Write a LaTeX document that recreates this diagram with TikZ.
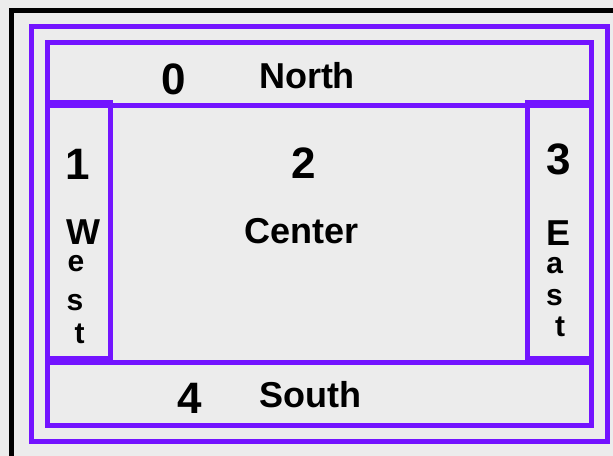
\documentclass[tikz,border=0pt]{standalone}
\usepackage{fontspec}
\setmainfont{Liberation Sans}
\definecolor{bgc}{RGB}{236,236,236}
\definecolor{pur}{RGB}{115,20,255}
\begin{document}
\begin{tikzpicture}[x=0.75pt,y=-0.75pt,
  frame/.style={draw=pur,line width=3.75pt},
  big/.style={font=\fontsize{33}{33}\selectfont\bfseries, inner sep=0pt},
  word/.style={font=\fontsize{27}{27}\selectfont\bfseries, inner sep=0pt},
  small/.style={font=\fontsize{22.5}{22.5}\selectfont\bfseries, inner sep=0pt}]
\fill[bgc] (0,0) rectangle (613,456);
\useasboundingbox (0,0) rectangle (613,456);
\draw[line width=3.75pt, black] (11,456) -- (11,10.8) -- (613,10.8);
% outer container and inner panel
\draw[frame] (31,26.5) rectangle (607,441.5);
\draw[frame] (47,42.5) rectangle (591,425.7);
% regions
\draw[frame] (47,42.5) rectangle (591,105.5);
\draw[frame] (47,102.5) rectangle (110.5,358.5);
\draw[frame] (527,102.5) rectangle (591,358.5);
\draw[frame] (47,362) rectangle (591,425.7);
% labels
\node[big] (n0) at (174,79) {0};
\node[word] (north) at (307,75.3) {North};
\node[big] (n1) at (78,164) {1};
\node[word] (w1) at (83.7,231.7) {W};
\node[small] (w2) at (76,263.8) {e};
\node[small] (w3) at (75,302.5) {s};
\node[small] (w4) at (79.7,334) {t};
\node[big] (n2) at (303.3,163.3) {2};
\node[word] (center) at (301.7,230.7) {Center};
\node[big] (n3) at (559,159) {3};
\node[word] (e1) at (558.7,232.8) {E};
\node[small] (e2) at (554.7,266) {a};
\node[small] (e3) at (554.5,297.5) {s};
\node[small] (e4) at (560,326.7) {t};
\node[big] (n4) at (189.5,398.8) {4};
\node[word] (south) at (310.5,395) {South};
\end{tikzpicture}
\end{document}
